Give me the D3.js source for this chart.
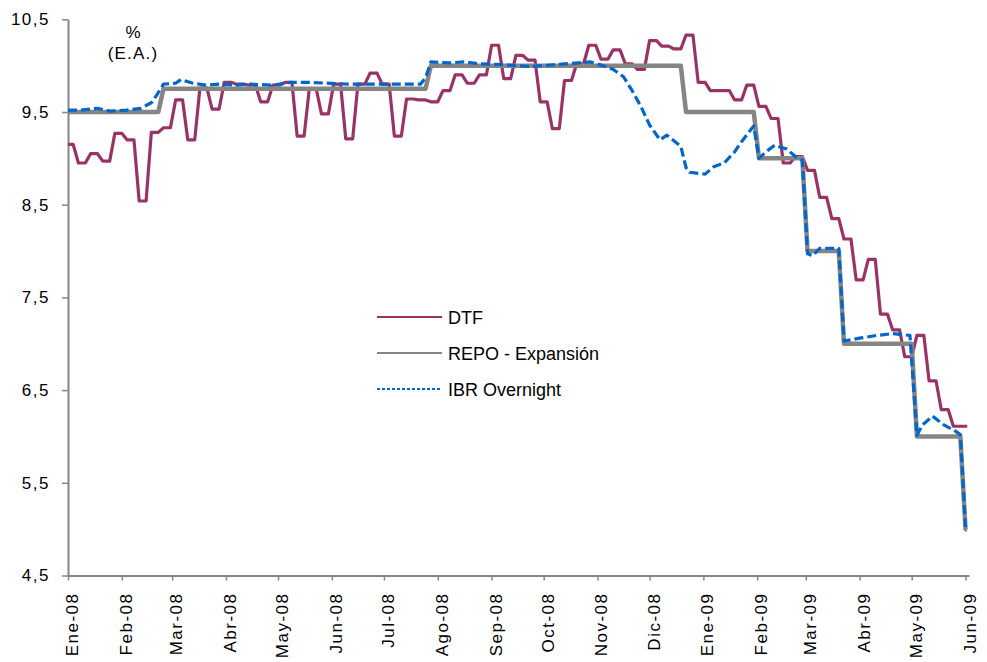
<!DOCTYPE html>
<html>
<head>
<meta charset="utf-8">
<script src="https://cdn.jsdelivr.net/npm/d3@7"></script>
<style>
  body { margin: 0; background: #fff; }
  svg { display: block; }
  text { font-family: Arial, "Liberation Sans", sans-serif; fill: #000; }
</style>
</head>
<body>
<svg id="chart" width="987" height="662"></svg>
<script>
// Observation window
const dataStart = "2008-01-01";
const dataEnd = "2009-06-02";

// DTF: weekly rate (%, E.A.), one value per week starting Monday
const weeks = [
  "2007-12-31","2008-01-07","2008-01-14","2008-01-21","2008-01-28","2008-02-04","2008-02-11","2008-02-18","2008-02-25",
  "2008-03-03","2008-03-10","2008-03-17","2008-03-24","2008-03-31","2008-04-07","2008-04-14","2008-04-21","2008-04-28",
  "2008-05-05","2008-05-12","2008-05-19","2008-05-26","2008-06-02","2008-06-09","2008-06-16","2008-06-23","2008-06-30",
  "2008-07-07","2008-07-14","2008-07-21","2008-07-28","2008-08-04","2008-08-11","2008-08-18","2008-08-25","2008-09-01",
  "2008-09-08","2008-09-15","2008-09-22","2008-09-29","2008-10-06","2008-10-13","2008-10-20","2008-10-27","2008-11-03",
  "2008-11-10","2008-11-17","2008-11-24","2008-12-01","2008-12-08","2008-12-15","2008-12-22","2008-12-29","2009-01-05",
  "2009-01-12","2009-01-19","2009-01-26","2009-02-02","2009-02-09","2009-02-16","2009-02-23","2009-03-02","2009-03-09",
  "2009-03-16","2009-03-23","2009-03-30","2009-04-06","2009-04-13","2009-04-20","2009-04-27","2009-05-04","2009-05-11",
  "2009-05-18","2009-05-25","2009-06-01"
];
const dtf = [
  9.15, 8.95, 9.05, 8.97, 9.27, 9.20, 8.54, 9.28, 9.33,
  9.63, 9.20, 9.76, 9.53, 9.82, 9.80, 9.79, 9.61, 9.79,
  9.82, 9.24, 9.75, 9.48, 9.80, 9.21, 9.80, 9.92, 9.80,
  9.24, 9.64, 9.63, 9.61, 9.73, 9.90, 9.81, 9.90, 10.22,
  9.86, 10.11, 10.06, 9.61, 9.32, 9.84, 10.02, 10.22, 10.07,
  10.17, 10.02, 9.96, 10.27, 10.21, 10.18, 10.33, 9.82, 9.73,
  9.73, 9.63, 9.79, 9.56, 9.43, 8.95, 9.02, 8.87, 8.58,
  8.35, 8.13, 7.69, 7.91, 7.32, 7.15, 6.86, 7.09, 6.60,
  6.29, 6.11, 6.11
];

// REPO - Expansión: policy rate and the date each level took effect
const repoDates = ["2008-01-01","2008-02-25","2008-07-28","2008-12-22","2009-02-02","2009-03-02","2009-03-23","2009-05-04","2009-06-01"];
const repoRates = [9.5, 9.75, 10.0, 9.5, 9.0, 8.0, 7.0, 6.0, 5.0];

// IBR Overnight: daily observations
const ibrDates = [
  "2008-01-01","2008-01-08","2008-01-18","2008-01-25","2008-02-04","2008-02-12","2008-02-18","2008-02-21","2008-02-25",
  "2008-03-03","2008-03-06","2008-03-13","2008-03-21","2008-03-28","2008-04-07","2008-04-14","2008-04-28","2008-05-08",
  "2008-05-18","2008-06-11","2008-07-10","2008-07-22","2008-07-25","2008-07-28","2008-08-08","2008-08-16","2008-08-25",
  "2008-09-08","2008-09-23","2008-10-07","2008-10-21","2008-10-28","2008-11-04","2008-11-10","2008-11-16","2008-11-21",
  "2008-11-26","2008-12-01","2008-12-07","2008-12-11","2008-12-19","2008-12-22","2008-12-24","2009-01-02","2009-01-07",
  "2009-01-13","2009-01-19","2009-01-23","2009-01-30","2009-02-02","2009-02-06","2009-02-11","2009-02-18","2009-02-23",
  "2009-02-27","2009-03-02","2009-03-05","2009-03-09","2009-03-20","2009-03-23","2009-04-01","2009-04-11","2009-04-20",
  "2009-04-30","2009-05-04","2009-05-07","2009-05-13","2009-05-19","2009-05-26","2009-05-29","2009-06-01","2009-06-02"
];
const ibr = [
  9.52, 9.52, 9.54, 9.51, 9.52, 9.54, 9.60, 9.68, 9.80,
  9.81, 9.85, 9.81, 9.79, 9.80, 9.79, 9.80, 9.79, 9.82,
  9.82, 9.80, 9.80, 9.80, 9.87, 10.04, 10.03, 10.04, 10.02,
  10.01, 9.99, 10.01, 10.03, 10.04, 10.00, 9.96, 9.88, 9.73,
  9.56, 9.36, 9.20, 9.25, 9.13, 8.90, 8.85, 8.83, 8.91,
  8.95, 9.07, 9.18, 9.35, 9.00, 9.07, 9.14, 9.10, 9.02,
  8.98, 7.97, 7.95, 8.03, 8.03, 7.03, 7.06, 7.09, 7.11,
  7.09, 6.01, 6.12, 6.22, 6.13, 6.06, 6.02, 5.01, 5.00
];

// Axis ticks
const yTicks = [4.5, 5.5, 6.5, 7.5, 8.5, 9.5, 10.5];
const monthLabels = ["Ene-08","Feb-08","Mar-08","Abr-08","May-08","Jun-08","Jul-08","Ago-08","Sep-08","Oct-08","Nov-08","Dic-08",
                     "Ene-09","Feb-09","Mar-09","Abr-09","May-09","Jun-09"];

const seriesNames = ["DTF", "REPO - Expansión", "IBR Overnight"];

// ---------------------------------------------------------------
const parse = d3.utcParse("%Y-%m-%d");
const start = parse(dataStart), end = parse(dataEnd);
const clampDate = d => d < start ? start : (d > end ? end : d);

const svg = d3.select("#chart");
const axisColor = "#868686";

const x = d3.scaleUtc()
  .domain([parse("2008-01-01"), parse("2009-06-03")])
  .range([68, 969]);
const y = d3.scaleLinear().domain([4.5, 10.5]).range([575.5, 19.3]);

const es = d3.formatLocale({ decimal: ",", thousands: ".", grouping: [3], currency: ["$", ""] });
const fmt = es.format(".1f");

// weekly values held flat Monday–Friday
const dtfPts = weeks.flatMap((w, i) => {
  const mon = parse(w), fri = d3.utcDay.offset(mon, 4);
  return [[clampDate(mon), dtf[i]], [clampDate(fri), dtf[i]]];
});

// policy rate held until the business day before the next change
const repoPts = repoDates.flatMap((d, i) => {
  const from = clampDate(parse(d));
  const to = i < repoDates.length - 1
    ? d3.utcFriday.floor(d3.utcDay.offset(parse(repoDates[i + 1]), -1))
    : end;
  return [[from, repoRates[i]], [to, repoRates[i]]];
});

const ibrPts = ibrDates.map((d, i) => [parse(d), ibr[i]]);

const line = d3.line().x(d => x(d[0])).y(d => y(d[1]));

// Axes
const yAxis = d3.axisLeft(y).tickValues(yTicks).tickFormat(fmt).tickSize(6).tickSizeOuter(0).tickPadding(12);
const gy = svg.append("g").attr("transform", "translate(68,0)").call(yAxis);
gy.selectAll("text").style("font-size", "17px").attr("letter-spacing", "1.5px");

const monthTicks = d3.utcMonth.range(parse("2008-01-01"), parse("2009-06-02"));
const xAxis = d3.axisBottom(x).tickValues(monthTicks).tickFormat((d, i) => monthLabels[i]).tickSize(5).tickSizeOuter(0);
const gx = svg.append("g").attr("transform", `translate(0,${y(4.5)})`).call(xAxis);
gx.selectAll("text")
  .style("font-size", "17px")
  .attr("letter-spacing", "1.5px")
  .attr("text-anchor", "end")
  .attr("dy", null)
  .attr("y", 0)
  .attr("transform", "translate(9.5,17) rotate(-90)");

[gx, gy].forEach(g => {
  g.selectAll(".domain").attr("stroke", axisColor).attr("stroke-width", 2);
  g.selectAll(".tick line").attr("stroke", axisColor).attr("stroke-width", 1.5);
});

// Unit label
svg.append("text").attr("x", 133).attr("y", 38).attr("text-anchor", "middle")
  .style("font-size", "17px").text("%");
svg.append("text").attr("x", 133).attr("y", 59).attr("text-anchor", "middle")
  .style("font-size", "17px").attr("letter-spacing", "1.2px").text("(E.A.)");

// Series
svg.append("path").datum(dtfPts).attr("d", line)
  .attr("fill", "none").attr("stroke", "#993366").attr("stroke-width", 3.2).attr("stroke-linejoin", "round");
svg.append("path").datum(repoPts).attr("d", line)
  .attr("fill", "none").attr("stroke", "#858585").attr("stroke-width", 4.5).attr("stroke-linejoin", "round");
svg.append("path").datum(ibrPts).attr("d", line)
  .attr("fill", "none").attr("stroke", "#0066CC").attr("stroke-width", 3.2)
  .attr("stroke-dasharray", "9,4").attr("stroke-linejoin", "round");

// Legend
const legendStyles = [
  { color: "#993366", dash: null },
  { color: "#858585", dash: null },
  { color: "#0066CC", dash: "3,2" }
];
const legend = svg.append("g").attr("transform", "translate(377,317)");
seriesNames.forEach((name, i) => {
  const g = legend.append("g").attr("transform", `translate(0,${i * 36})`);
  g.append("line").attr("x1", 0).attr("x2", 65).attr("y1", 0).attr("y2", 0)
    .attr("stroke", legendStyles[i].color).attr("stroke-width", 2)
    .attr("stroke-dasharray", legendStyles[i].dash);
  g.append("text").attr("x", 71).attr("y", 6.5).style("font-size", "18px").text(name);
});
</script>
</body>
</html>
